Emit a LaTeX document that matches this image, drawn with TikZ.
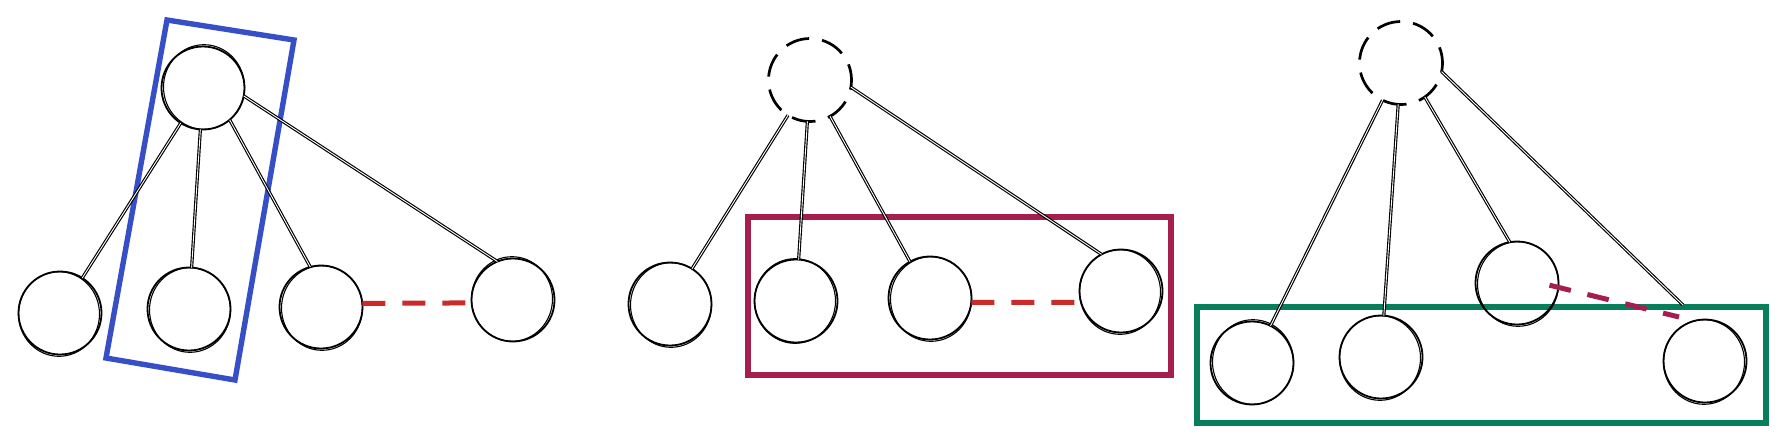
\documentclass[tikz,border=0pt]{standalone}
\usetikzlibrary{calc}
\definecolor{ind}{RGB}{54,79,199}
\definecolor{pnk}{RGB}{166,30,77}
\definecolor{grn}{RGB}{8,127,91}
\definecolor{rd}{RGB}{201,42,42}
\begin{document}
\begin{tikzpicture}[x=1pt,y=-1pt,
  nd/.style={circle,draw,line width=1.8pt,minimum size=83pt,inner sep=0pt,outer sep=0pt},
  ghost/.style={circle,draw,line width=2.7pt,minimum size=83pt,inner sep=0pt,outer sep=0pt,dash pattern=on 24pt off 13pt,dash phase=8pt},
  sk/.style={line width=1.1pt},
  lnk/.style={draw,line width=1.15pt,double=white,double distance=0.9pt},
  frame/.style={line width=5.4pt,line join=miter},
  rdash/.style={line width=5pt,draw=rd,dash pattern=on 23pt off 17pt},
  mdash/.style={line width=5pt,draw=pnk,dash pattern=on 22pt off 17pt}]
\useasboundingbox (0,0) rectangle (1787,442);

% ---------- frames ----------
\draw[frame,draw=ind] (167,20) -- (294,40) -- (235,380) -- (106,358) -- cycle;
\draw[frame,draw=pnk] (748,217) rectangle (1171,375);
\draw[frame,draw=grn] (1197,307) rectangle (1766,423);

% ---------- panel 1 ----------
\node[nd] (R1) at (203,88) {};
\node[nd] (A1) at (60,313) {};
\node[nd] (B1) at (189,309) {};
\node[nd] (C1) at (321,307) {};
\node[nd] (D1) at (513,300) {};

% ---------- panel 2 ----------
\node[ghost] (R2) at (810,80) {};
\node[nd] (A2) at (670,304) {};
\node[nd] (B2) at (796,301) {};
\node[nd] (C2) at (930,298) {};
\node[nd] (D2) at (1121,291) {};

% ---------- panel 3 ----------
\node[ghost] (R3) at (1401,63) {};
\node[nd] (A3) at (1252,363) {};
\node[nd] (B3) at (1381,357) {};
\node[nd] (C3) at (1517,283) {};
\node[nd] (D3) at (1705,361) {};
\coordinate (d3end) at ($(D3)+(-22,-56)$);
\coordinate (m3end) at ($(D3)+(-26,-44)$);

% second sketch strokes
\foreach \n/\dx/\dy in {R1/1/-1,A1/-1/1,B1/1/1,C1/1/1,D1/-1/-1,A2/1/1,B2/-1/0,C2/1/1,D2/-1/1,A3/1/-1,B3/-1/1,C3/1/1,D3/-1/1}
  \draw[sk] ($(\n)+(\dx,\dy)$) ellipse [x radius=40.5pt, y radius=42.3pt];

% ---------- connectors ----------
\path[lnk] (R1) -- (A1);
\path[lnk] (R1) -- (B1);
\path[lnk] (R1.-50) -- (C1.105);
\path[lnk] (R1.-11) -- (D1.112);

\path[lnk] (R2) -- (A2);
\path[lnk] (R2) -- (B2);
\path[lnk] (R2) -- (C2);
\path[lnk] (R2.-10) -- (D2.118);

\path[lnk] (R3) -- (A3);
\path[lnk] (R3) -- (B3);
\path[lnk] (R3.-55) -- (C3.100);
\path[lnk] (R3.-12) -- (d3end);

% ---------- dashed links ----------
\draw[rdash] (C1.5) -- (D1.184);
\draw[rdash] (C2.-6) -- (D2.196);
\draw[mdash] ($(C3.-3)+(-9,0)$) -- (m3end);
\end{tikzpicture}
\end{document}
